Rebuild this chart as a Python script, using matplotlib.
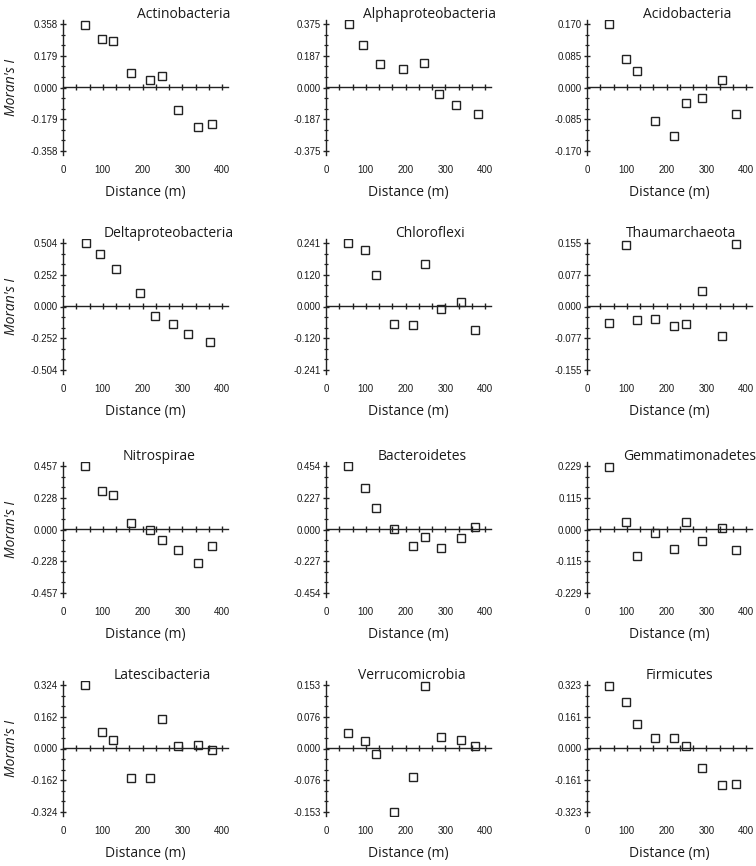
import matplotlib
matplotlib.use("Agg")
import matplotlib.pyplot as plt
import numpy as np
from matplotlib.ticker import FormatStrFormatter, MultipleLocator, NullLocator

names = [
    "Actinobacteria", "Alphaproteobacteria", "Acidobacteria",
    "Deltaproteobacteria", "Chloroflexi", "Thaumarchaeota",
    "Nitrospirae", "Bacteroidetes", "Gemmatimonadetes",
    "Latescibacteria", "Verrucomicrobia", "Firmicutes",
]

# axis half-range (the outer tick value) for each panel
y_max = [0.3580, 0.3748, 0.1700, 0.5040, 0.2408, 0.1548,
         0.4568, 0.4540, 0.2294, 0.3240, 0.1529, 0.3228]

dist_9 = [56, 97, 127, 171, 220, 249, 290, 339, 376]
dist_alpha = [57, 93, 136, 193, 247, 284, 327, 382]
dist_delta = [57, 92, 134, 193, 231, 276, 315, 370]

distances = [
    dist_9, dist_alpha, dist_9,
    dist_delta, dist_9, dist_9,
    dist_9, dist_9, dist_9,
    dist_9, dist_9, dist_9,
]

actinobacteria = [0.356, 0.275, 0.266, 0.083, 0.040, 0.064, -0.126, -0.226, -0.209]
alphaproteobacteria = [0.377, 0.251, 0.140, 0.108, 0.146, -0.038, -0.104, -0.156]
acidobacteria = [0.171, 0.077, 0.045, -0.090, -0.130, -0.041, -0.029, 0.019, -0.072]
deltaproteobacteria = [0.507, 0.423, 0.302, 0.108, -0.075, -0.137, -0.221, -0.280]
chloroflexi = [0.242, 0.216, 0.121, -0.067, -0.070, 0.164, -0.008, 0.019, -0.089]
thaumarchaeota = [-0.040, 0.150, -0.032, -0.031, -0.049, -0.044, 0.039, -0.073, 0.154]
nitrospirae = [0.457, 0.282, 0.248, 0.049, -0.005, -0.075, -0.148, -0.246, -0.117]
bacteroidetes = [0.454, 0.297, 0.155, 0.005, -0.116, -0.053, -0.133, -0.060, 0.019]
gemmatimonadetes = [0.229, 0.029, -0.096, -0.013, -0.072, 0.027, -0.041, 0.007, -0.076]
latescibacteria = [0.327, 0.083, 0.045, -0.149, -0.154, 0.154, 0.014, 0.017, -0.009]
verrucomicrobia = [0.037, 0.019, -0.013, -0.154, -0.069, 0.152, 0.027, 0.021, 0.005]
firmicutes = [0.321, 0.236, 0.126, 0.056, 0.056, 0.012, -0.099, -0.186, -0.183]

morans = [
    actinobacteria, alphaproteobacteria, acidobacteria,
    deltaproteobacteria, chloroflexi, thaumarchaeota,
    nitrospirae, bacteroidetes, gemmatimonadetes,
    latescibacteria, verrucomicrobia, firmicutes,
]

# layout (pixels of the 756x866 figure)
W, H = 756, 866
col_left = [63, 326, 587]
row_top = [20, 239, 462, 681]
ax_w, ax_h = 165, 135
title_x = [0.73, 0.63, 0.61, 0.64, 0.63, 0.57, 0.58, 0.58, 0.62, 0.60, 0.52, 0.56]

LINE = "#222222"
TEXT = "#1a1a1a"
LABEL_FONT = ["Open Sans", "DejaVu Sans"]
TICK_FONT = ["Liberation Sans", "DejaVu Sans"]


def draw_panel(ax, i):
    m = y_max[i]
    ax.plot(distances[i], morans[i], linestyle="none", marker="s", markersize=5.6,
            markerfacecolor="none", markeredgecolor="#222222", markeredgewidth=1.0)

    ax.set_xlim(0, 415)
    ax.set_ylim(-1.07 * m, 1.07 * m)
    for side in ["top", "right", "bottom"]:
        ax.spines[side].set_visible(False)
    ax.spines["left"].set_color(LINE)
    ax.spines["left"].set_linewidth(1.0)

    ax.set_yticks([-m, -m / 2, 0, m / 2, m])
    ax.yaxis.set_major_formatter(FormatStrFormatter("%.3f"))
    ax.yaxis.set_minor_locator(MultipleLocator(m / 6))
    ax.tick_params(axis="y", which="major", direction="inout", length=5, width=1.0,
                   color=LINE, pad=1, labelsize=7, labelcolor=TEXT)
    ax.tick_params(axis="y", which="minor", direction="inout", length=3.5, width=0.9,
                   color=LINE)

    ax.set_xticks([0, 100, 200, 300, 400])
    ax.xaxis.set_minor_locator(NullLocator())
    ax.tick_params(axis="x", which="major", length=0, pad=7.5, labelsize=7,
                   labelcolor=TEXT)
    for lab in ax.get_xticklabels() + ax.get_yticklabels():
        lab.set_family(TICK_FONT)

    # horizontal axis line through zero, with its own ticks
    zero = ax.secondary_xaxis(0.5)
    zero.set_xticks(np.arange(1, 13) * 100 / 3)
    zero.tick_params(direction="inout", length=5, width=1.0, color=LINE,
                     labelbottom=False, labeltop=False)
    for spine in zero.spines.values():
        spine.set_color(LINE)
        spine.set_linewidth(1.0)

    ax.text(title_x[i], 1.015, names[i], transform=ax.transAxes, ha="center",
            va="baseline", fontsize=10, color=TEXT, family=LABEL_FONT)
    ax.text(0.5, -0.28, "Distance (m)", transform=ax.transAxes, ha="center",
            va="center", fontsize=10, color=TEXT, family=LABEL_FONT)
    if i % 3 == 0:
        ax.text(-0.31, 0.5, "Moran's I", transform=ax.transAxes, ha="center",
                va="center", rotation=90, fontsize=10, style="italic",
                color=TEXT, family=LABEL_FONT)


def main():
    fig = plt.figure(figsize=(W / 100, H / 100), dpi=100)
    for i in range(len(names)):
        r, c = divmod(i, 3)
        left = col_left[c] / W
        bottom = 1 - (row_top[r] + ax_h) / H
        ax = fig.add_axes([left, bottom, ax_w / W, ax_h / H])
        draw_panel(ax, i)
    fig.savefig("out.png", dpi=100)


if __name__ == "__main__":
    main()
